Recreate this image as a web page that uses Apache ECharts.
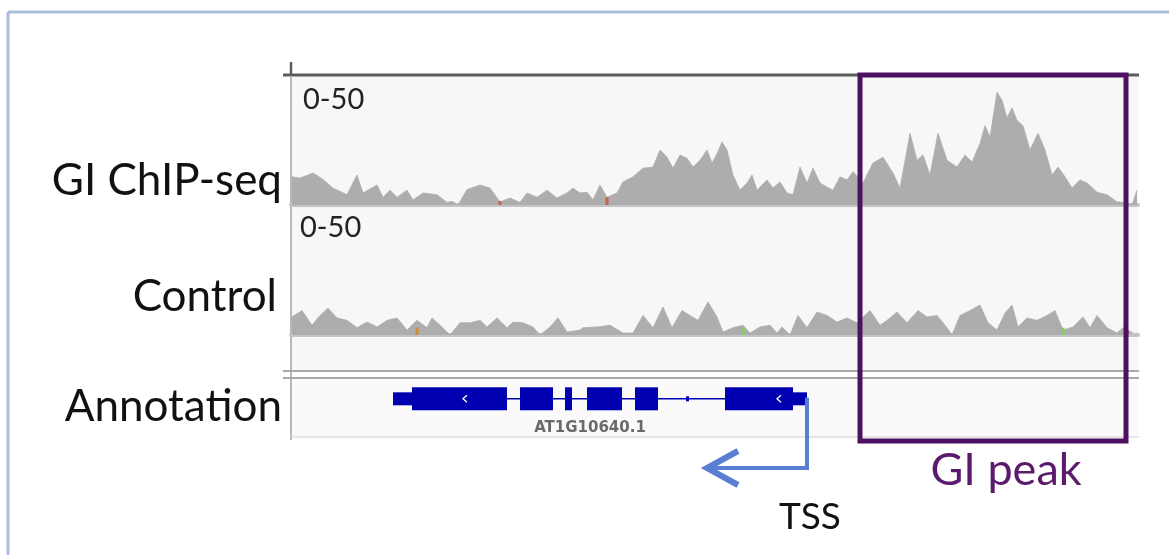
<!DOCTYPE html>
<html><head><meta charset="utf-8">
<script src="https://cdn.jsdelivr.net/npm/echarts@6/dist/echarts.min.js"></script>
<style>html,body{margin:0;padding:0;background:#fff}#c{width:1169px;height:555px}</style>
</head><body><div id="c"></div>
<script>
// ---- data (genomic positions in bins, coverage values on 0-50 scale) ----
const chipPos = [1,9,22,32,42,56,66,72,86,92,99,106,116,122,132,146,156,161,167,176,189,199,209,219,229,236,246,256,266,276,282,289,296,302,309,316,326,332,342,352,362,369,376,382,389,396,402,409,416,421,426,431,436,442,449,456,461,466,476,482,489,496,502,509,516,522,529,536,542,549,556,562,572,582,592,602,609,619,626,632,639,647,656,666,674,681,689,694,699,706,711,716,721,726,732,739,747,754,761,767,774,781,789,796,806,816,826,836,841,846];
const chipVal = [11,10.5,12.5,10,6.6,4,11.7,4.7,7.8,3,5.8,3,5.8,2,4.7,4,1,1.5,0,6,7.8,6.6,1.2,2.7,1,4.7,3,5.8,2.7,4.7,6.6,4.7,5,2,7.8,3,4.7,9,11,14.4,14.8,21.5,18.7,14.4,19.5,18.3,14.8,17.5,21.5,16.4,20,24.6,21.5,11.7,5.8,8.6,11.7,5.8,9.8,6.6,9,4.7,4,14.8,8.6,14.4,8.6,7,5.8,11,9.8,13,8.6,16.4,18.7,12.5,6.6,28,17.5,19.5,11.7,28,17.5,14.8,19.5,16.8,24,31,26.5,44,41,34,38,33,31,21.5,28,21.5,11.7,14.8,11,6.6,9.8,8.6,5,4,1.2,1,0,5.8];
const ctrlPos = [1,11,21,29,37,46,56,66,76,86,96,106,116,126,136,141,149,159,169,179,189,196,206,216,222,232,242,249,259,267,276,289,292,306,319,332,342,352,362,372,381,391,399,407,417,426,432,442,452,459,469,479,486,491,499,507,516,526,536,546,556,566,579,589,596,606,616,627,636,646,656,661,669,679,689,697,706,714,721,727,736,746,756,764,772,782,792,799,806,816,826,832,842];
const ctrlVal = [7.4,10,4,8,11,7,6,3,5.3,3.3,6,7,2,6,3,7,4,0,5,5,6,3.3,7,3,5.3,5,3.3,0,3.3,7,1.2,2,3,3.3,4,0.8,0.8,8,3,11.5,3,10,8,6,13.5,7.4,1.2,3,4,0.8,3.3,4,0.8,3.3,0,8,3,9.4,8,5.3,7,5,10,4,6,9.4,5,10,7.4,8,3,0,8,10,12.3,5,2,9,12.3,3.3,7,6,8,10,2,3.3,7.4,3,8,3,0.8,3,0.8];
// mismatch markers: [position, height]
const chipMismatch = [[209,1.6],[316,3]];
const ctrlMismatch = [[126,3],[452,3],[772,3],[836,2]];
const mismatchColors = ['#c8604a','#c8604a'];
const ctrlMismatchColors = ['#d08a3a','#8cc864','#8cc864','#a0305a'];
// gene model: [start, end, kind]  kind 0 = CDS, 1 = UTR, 2 = small exon
const geneExons = [[102,121,1],[121,216,0],[229,262,0],[274,281,0],[296,331,0],[344,367,0],[395,397,2],[434,502,0],[502,516,1]];
const geneSpan = [102,516];
const geneName = 'AT1G10640.1';
const strandMarks = [174,488];
const tssPos = 516;
const tssArrowEnd = 414;
const peakRegion = [569,835];
const trackLabels = ['GI ChIP-seq','Control','Annotation'];
const rangeLabel = '0-50';
const posMax = 847;

const chipData = chipPos.map((p,i)=>[p,chipVal[i]]);
const ctrlData = ctrlPos.map((p,i)=>[p,ctrlVal[i]]);
const GENE_Y = 0.67;
const GREY = '#adadad';
const FONT = 'Lato';

const chart = echarts.init(document.getElementById('c'), null, {renderer:'canvas'});

const xBase = {type:'value', min:0, max:posMax, axisLabel:{show:false}, axisTick:{show:false}, splitLine:{show:false}};
const yBase = {type:'value', min:0, max:50, show:false};

chart.setOption({
  animation:false,
  backgroundColor:'#ffffff',
  grid:[
    {left:291, width:847, top:77, height:128},
    {left:291, width:847, top:213, height:122},
    {left:291, width:847, top:380, height:57}
  ],
  xAxis:[
    Object.assign({gridIndex:0, axisLine:{show:true, lineStyle:{color:'#c4c4c4', width:4}}}, xBase),
    Object.assign({gridIndex:1, axisLine:{show:true, lineStyle:{color:'#c4c4c4', width:4}}}, xBase),
    Object.assign({gridIndex:2, axisLine:{show:false}}, xBase)
  ],
  yAxis:[
    Object.assign({gridIndex:0}, yBase),
    Object.assign({gridIndex:1}, yBase),
    {gridIndex:2, type:'value', min:0, max:1, show:false}
  ],
  graphic:[
    // panel backgrounds and frame
    {type:'rect', z:-10, shape:{x:291,y:75,width:847,height:296}, style:{fill:'#f7f7f7'}},
    {type:'rect', z:-10, shape:{x:291,y:379,width:847,height:58}, style:{fill:'#fafafa'}},
    {type:'line', shape:{x1:8,y1:12,x2:1169,y2:12}, style:{stroke:'#a9bedb', lineWidth:3}},
    {type:'line', shape:{x1:8,y1:12,x2:8,y2:555}, style:{stroke:'#a9bedb', lineWidth:3}},
    {type:'line', shape:{x1:283,y1:75,x2:1139,y2:75}, style:{stroke:'#5c5c5c', lineWidth:3}},
    {type:'line', shape:{x1:291,y1:62,x2:291,y2:76}, style:{stroke:'#5c5c5c', lineWidth:2.5}},
    {type:'line', shape:{x1:291,y1:76,x2:291,y2:440}, style:{stroke:'#b8b8b8', lineWidth:2}},
    {type:'line', shape:{x1:283,y1:371,x2:1139,y2:371}, style:{stroke:'#a8a8a8', lineWidth:2}},
    {type:'line', shape:{x1:283,y1:378,x2:1139,y2:378}, style:{stroke:'#a8a8a8', lineWidth:2}},
    {type:'line', shape:{x1:291,y1:437,x2:1139,y2:437}, style:{stroke:'#dcdcdc', lineWidth:1.5}},
    // texts
    {type:'text', x:282, y:181, style:{text:trackLabels[0], font:'44px '+FONT, fill:'#111', align:'right', verticalAlign:'middle'}},
    {type:'text', x:277, y:297, style:{text:trackLabels[1], font:'44px '+FONT, fill:'#111', align:'right', verticalAlign:'middle'}},
    {type:'text', x:282, y:407, style:{text:trackLabels[2], font:'44px '+FONT, fill:'#111', align:'right', verticalAlign:'middle'}},
    {type:'text', x:303, y:100, style:{text:rangeLabel, font:'29px '+FONT, fill:'#222', align:'left', verticalAlign:'middle'}},
    {type:'text', x:300, y:228, style:{text:rangeLabel, font:'29px '+FONT, fill:'#222', align:'left', verticalAlign:'middle'}},
    {type:'text', x:1006, y:470, style:{text:'GI peak', font:'45px '+FONT, fill:'#5b1a6b', align:'center', verticalAlign:'middle'}},
    {type:'text', x:810, y:517, style:{text:'TSS', font:'37px '+FONT, fill:'#111', align:'center', verticalAlign:'middle'}}
  ],
  series:[
    {type:'line', xAxisIndex:0, yAxisIndex:0, data:chipData, showSymbol:false, lineStyle:{width:0.8, color:GREY}, areaStyle:{color:GREY, opacity:1}, z:3},
    {type:'line', xAxisIndex:1, yAxisIndex:1, data:ctrlData, showSymbol:false, lineStyle:{width:0.8, color:GREY}, areaStyle:{color:GREY, opacity:1}, z:3},
    {type:'bar', xAxisIndex:0, yAxisIndex:0, barWidth:3, z:4,
      data:chipMismatch.map((d,i)=>({value:d, itemStyle:{color:mismatchColors[i]}}))},
    {type:'bar', xAxisIndex:1, yAxisIndex:1, barWidth:3, z:4,
      data:ctrlMismatch.map((d,i)=>({value:d, itemStyle:{color:ctrlMismatchColors[i]}}))},
    // intron line
    {type:'line', xAxisIndex:2, yAxisIndex:2, data:[[geneSpan[0],GENE_Y],[geneSpan[1],GENE_Y]], showSymbol:false, lineStyle:{width:1.5, color:'#0000b0'}, z:3},
    // exons
    {type:'custom', xAxisIndex:2, yAxisIndex:2, data:geneExons, z:4,
      renderItem:function(params, api){
        const s = api.coord([api.value(0), GENE_Y]);
        const e = api.coord([api.value(1), GENE_Y]);
        const k = api.value(2);
        const h = k===0 ? 23 : (k===1 ? 13 : 5);
        return {type:'rect', shape:{x:s[0], y:s[1]-h/2, width:Math.max(e[0]-s[0],3), height:h}, style:{fill:'#0000b0'}};
      }},
    // strand chevrons
    {type:'custom', xAxisIndex:2, yAxisIndex:2, data:strandMarks.map(p=>[p]), z:5,
      renderItem:function(params, api){
        const c = api.coord([api.value(0), GENE_Y]);
        return {type:'polyline', shape:{points:[[c[0]+2,c[1]-3.5],[c[0]-2,c[1]],[c[0]+2,c[1]+3.5]]}, style:{stroke:'#ffffff', lineWidth:1.3, fill:null}};
      }},
    // gene name
    {type:'custom', xAxisIndex:2, yAxisIndex:2, data:[[(geneSpan[0]+geneSpan[1])/2 - 10]], z:5,
      renderItem:function(params, api){
        const c = api.coord([api.value(0), GENE_Y]);
        return {type:'text', x:c[0], y:c[1]+29, style:{text:geneName, font:'bold 15px "DejaVu Sans"', fill:'#6a6a6a', align:'center', verticalAlign:'middle'}};
      }},
    // TSS arrow
    {type:'custom', xAxisIndex:2, yAxisIndex:2, data:[[tssPos, tssArrowEnd]], z:6, clip:false,
      renderItem:function(params, api){
        const a = api.coord([api.value(0), GENE_Y]);
        const b = api.coord([api.value(1), GENE_Y]);
        const yy = 468;
        return {type:'group', children:[
          {type:'polyline', shape:{points:[[a[0],a[1]-1],[a[0],yy],[b[0]+4,yy]]}, style:{stroke:'#5a7fd2', lineWidth:4, fill:null}},
          {type:'polyline', shape:{points:[[b[0]+33,yy-17],[b[0]+2,yy],[b[0]+33,yy+17]]}, style:{stroke:'#5a7fd2', lineWidth:6, fill:null, lineJoin:'miter'}}
        ]};
      }},
    // GI peak box
    {type:'custom', xAxisIndex:0, yAxisIndex:0, data:[peakRegion], z:10, clip:false,
      renderItem:function(params, api){
        const a = api.coord([api.value(0), 50]);
        const b = api.coord([api.value(1), 50]);
        return {type:'rect', shape:{x:a[0], y:75, width:b[0]-a[0], height:366}, style:{stroke:'#4c1160', lineWidth:5, fill:null}};
      }}
  ]
});
</script></body></html>
